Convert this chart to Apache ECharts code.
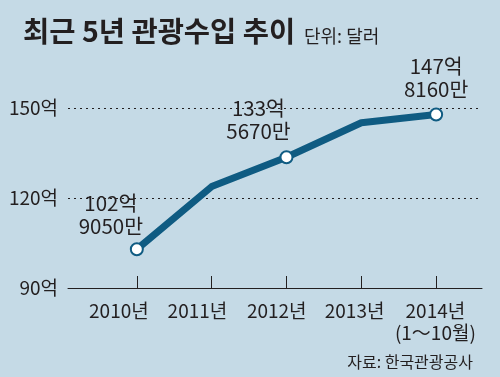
<!DOCTYPE html>
<html><head><meta charset="utf-8">
<script src="https://cdn.jsdelivr.net/npm/echarts@6/dist/echarts.min.js"></script>
<style>html,body{margin:0;padding:0;background:#c5dae6;}#c{width:500px;height:377px;}</style>
</head><body><div id="c"></div>
<script>
const years = [2010, 2011, 2012, 2013, 2014];
const xLabels = ['2010년', '2011년', '2012년', '2013년', '2014년\n(1～10월)'];
const values = [102.905, 123.8, 133.567, 145.1, 147.816];
const valueLabels = ['102억\n9050만', '', '133억\n5670만', '', '147억\n8160만'];
const yTicks = [90, 120, 150];
const labelPos = [2009.76, 2010.81, 2011.87, 2012.91, 2013.99];

const font = '"Noto Sans CJK KR", "Noto Sans", sans-serif';
const labelOffsets = [[-26, 0], null, [-28, -3], null, [0, -2]];

const chart = echarts.init(document.getElementById('c'), null, {renderer: 'canvas'});
chart.setOption({
  backgroundColor: '#c5dae6',
  animation: false,
  title: [
    {text: '최근 5년 관광수입 추이', left: 18, top: 12,
     textStyle: {fontFamily: font, fontSize: 28.5, fontWeight: 'bold', color: '#231f20'}},
    {text: '단위: 달러', left: 299, top: 22,
     textStyle: {fontFamily: font, fontSize: 18, fontWeight: 'normal', color: '#231f20'}},
    {text: '자료: 한국관광공사', right: 22, top: 349,
     textStyle: {fontFamily: font, fontSize: 16, fontWeight: 'normal', color: '#231f20'}}
  ],
  grid: {left: 68, right: 18, top: 108, bottom: 89},
  xAxis: {
    type: 'value', min: 2009.08, max: 2014.613,
    axisLine: {show: true, onZero: false, lineStyle: {color: '#231f20', width: 1}},
    axisTick: {show: true, inside: true, length: 12, customValues: years,
               lineStyle: {color: '#231f20', width: 1}},
    axisLabel: {customValues: labelPos, margin: 12,
      formatter: function (v) {
        let best = 0;
        for (let i = 0; i < labelPos.length; i++) {
          if (Math.abs(labelPos[i] - v) < Math.abs(labelPos[best] - v)) best = i;
        }
        return xLabels[best];
      },
      fontFamily: font, fontSize: 19, color: '#231f20', lineHeight: 22},
    splitLine: {show: false}
  },
  yAxis: {
    type: 'value', min: 90, max: 150, interval: 30,
    axisLine: {show: false}, axisTick: {show: false},
    axisLabel: {formatter: function (v) { return yTicks.indexOf(v) >= 0 ? v + '억' : ''; },
      fontFamily: font, fontSize: 19, color: '#231f20', margin: 10},
    splitLine: {show: true, lineStyle: {type: [2, 4], color: '#231f20', width: 1}}
  },
  series: [{
    type: 'line',
    data: years.map(function (y, i) {
      const item = {value: [y, values[i]]};
      if (valueLabels[i]) {
        item.symbol = 'circle';
        item.symbolSize = 12;
        item.label = {show: true, position: 'top', offset: labelOffsets[i],
          formatter: valueLabels[i], fontFamily: font, fontSize: 20.5,
          color: '#231f20', lineHeight: 23, align: 'center'};
      } else {
        item.symbol = 'none';
      }
      return item;
    }),
    lineStyle: {color: '#0f5b82', width: 7, cap: 'round', join: 'round'},
    itemStyle: {color: '#ffffff', borderColor: '#0f5b82', borderWidth: 2},
    showSymbol: true
  }]
});
</script></body></html>
